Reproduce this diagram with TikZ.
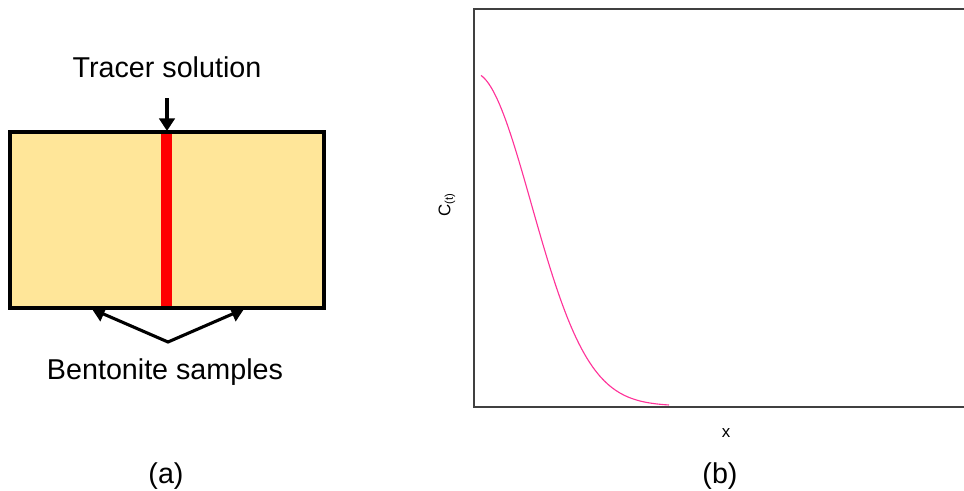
\documentclass[tikz,border=0pt]{standalone}
\usepackage{fontspec}
\setmainfont{Liberation Sans}
\usetikzlibrary{arrows.meta}
\definecolor{sandfill}{RGB}{255,230,153}
\definecolor{tracerred}{RGB}{255,0,0}
\definecolor{curvepink}{RGB}{255,51,153}
\definecolor{axisgray}{RGB}{64,64,64}
\tikzset{
  biglabel/.style={font=\fontsize{20.4}{24}\selectfont, inner sep=0pt},
  smalllabel/.style={font=\fontsize{12}{14}\selectfont, inner sep=0pt},
  pointer/.style={line width=2.2pt, -{Triangle[width=11pt,length=9pt]}},
  twopointer/.style={line width=2.2pt, {Triangle[width=11pt,length=9pt]}-{Triangle[width=11pt,length=9pt]}},
}
\begin{document}
\begin{tikzpicture}[x=0.025cm,y=-0.025cm]
\useasboundingbox (0,0) rectangle (964,491);
\clip (0,0) rectangle (964,491);
% (a) bentonite block with tracer layer
\fill[sandfill] (10,132) rectangle (324,308);
\fill[tracerred] (161,132) rectangle (172,308);
\draw[line width=2.2pt] (10,132) rectangle (324,308);
\node[biglabel, anchor=base] (tracer) at (167,78) {Tracer solution};
\coordinate (inlet) at (167,131);
\draw[pointer, shorten <=14pt] (tracer.south) -- (inlet);
\coordinate (apex) at (168,342);
\coordinate (leftend) at (92,309);
\coordinate (rightend) at (244,309);
\draw[twopointer] (leftend) -- (apex) -- (rightend);
\node[biglabel, anchor=base] (bentonite) at (165,379) {Bentonite samples};
\node[biglabel, anchor=base] (labela) at (166,483) {(a)};
% (b) concentration profile
\draw[axisgray, line width=1.1pt] (474,9) rectangle (1000,407);
\draw[curvepink, line width=0.8pt, domain=481:669, samples=120, smooth] plot (\x,{406-333*exp(-((\x-474)/81.07)^2)});
\node[smalllabel, anchor=base] (xlabel) at (726,437) {x};
\node[smalllabel, rotate=90] (ylabel) at (447,205) {C\textsubscript{(t)}};
\node[biglabel, anchor=base] (labelb) at (720,483) {(b)};
\end{tikzpicture}
\end{document}
